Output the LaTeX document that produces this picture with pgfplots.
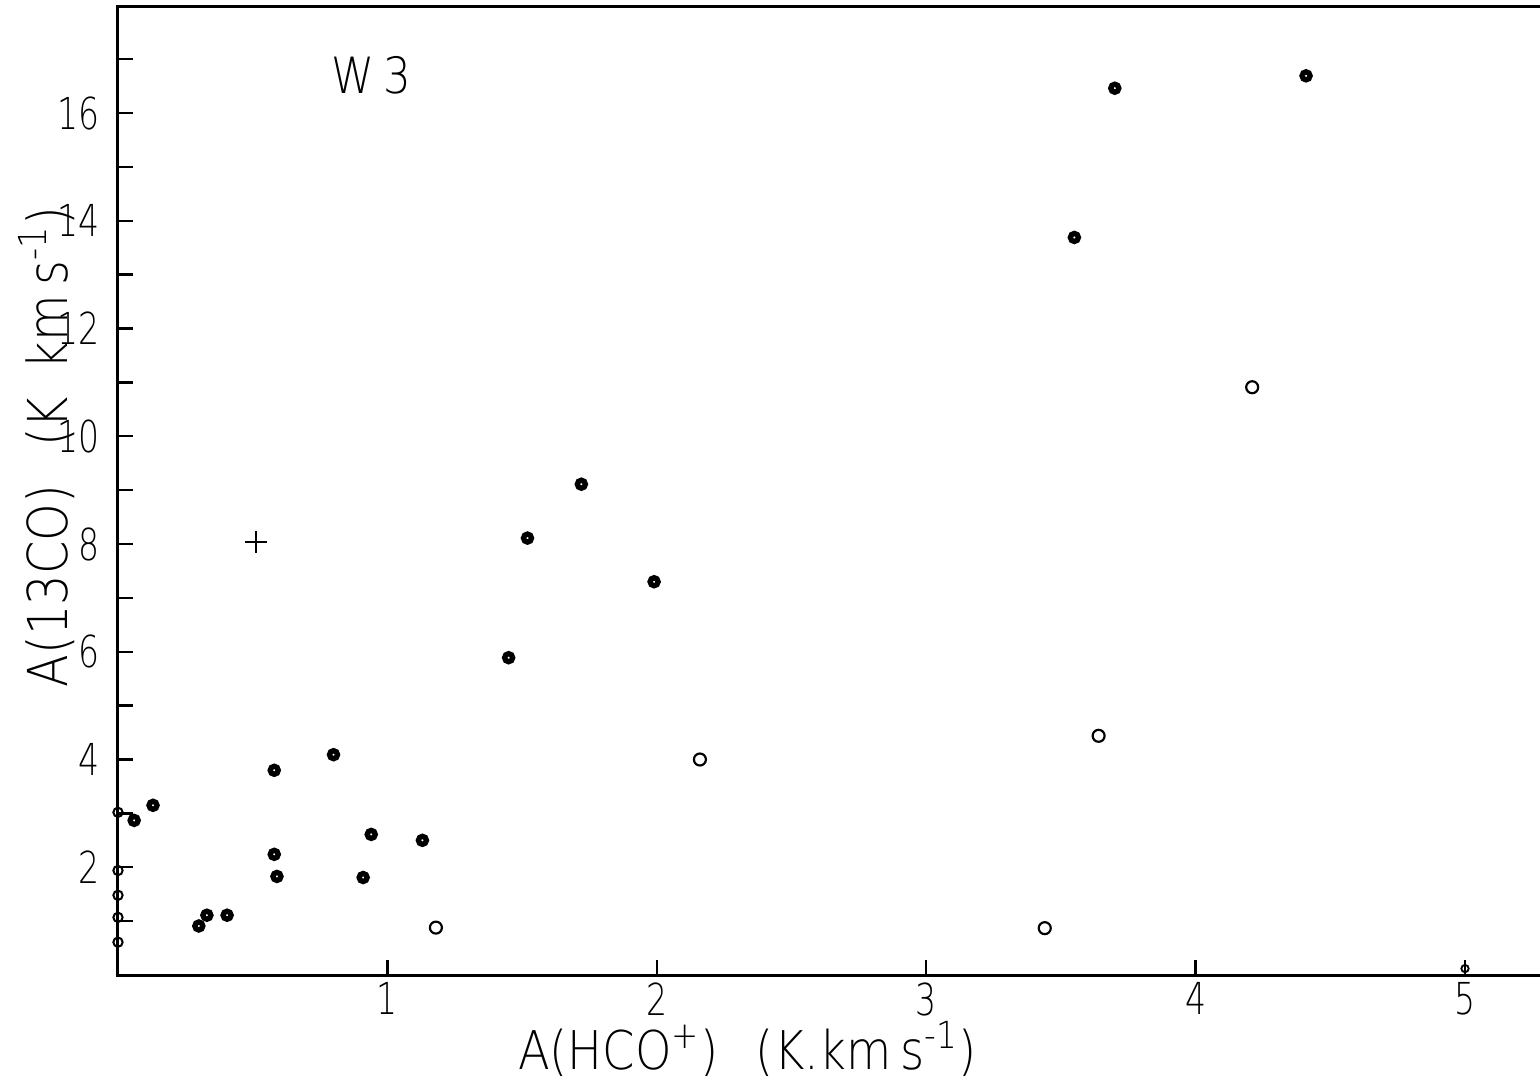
\documentclass[border=0pt]{standalone}
\usepackage{fontspec}
\setmainfont{DejaVu Sans ExtraLight}[FakeStretch=0.75]
\newfontfamily\labelfont{DejaVu Sans ExtraLight}[FakeStretch=0.87]
\usepackage{pgfplots}
\pgfplotsset{compat=1.18}
\begin{document}
\begin{tikzpicture}
\useasboundingbox (-35.4pt,-32.4pt) rectangle (426.6pt,292.5pt);
\begin{axis}[
  at={(0pt,0pt)}, anchor=south west,
  x=80.82pt, y=16.1625pt,
  xmin=0, xmax=5.5, ymin=0, ymax=17.97,
  axis line style={line width=0.9pt},
  xtick={1,2,3,4,5}, ytick={2,4,...,16}, minor ytick={1,3,...,17},
  tick pos=left, tick align=inside,
  major tick length=4.5pt, minor tick length=4.5pt,
  every tick/.style={black, line width=0.7pt},
  /pgf/number format/assume math mode=true,
  ticklabel style={font=\fontsize{13.2}{15}\selectfont},
  xticklabel style={yshift=-1pt, inner sep=1pt},
  yticklabel style={xshift=-2pt},
  clip=false,
]
% thick rings
\addplot[only marks, mark=o, mark options={line width=1.6pt}, mark size=1.2pt] coordinates {
(4.41,16.69) (3.70,16.46) (3.55,13.69) (1.72,9.11) (1.52,8.11) (1.99,7.30)
(1.45,5.89) (0.80,4.09) (0.58,3.80) (0.58,2.24) (0.59,1.83) (0.94,2.61)
(0.91,1.81) (1.13,2.50) (0.13,3.15) (0.06,2.87) (0.30,0.91) (0.33,1.11) (0.405,1.11)
};
% open circles
\addplot[only marks, mark=o, mark options={line width=0.65pt}, mark size=1.8pt] coordinates {
(4.21,10.91) (2.16,4.0) (3.64,4.44) (1.18,0.88) (3.44,0.87)
};
% points on the y axis
\addplot[only marks, mark=o, mark options={line width=0.6pt}, mark size=1.4pt] coordinates {
(0,3.02) (0,1.94) (0,1.48) (0,1.07) (0,0.61)
};
% point on the x axis
\addplot[only marks, mark=o, mark options={line width=0.55pt}, mark size=1.1pt] coordinates {
(5.0,0.12)
};
% plus
\addplot[only marks, mark=+, mark options={line width=0.7pt}, mark size=3.2pt] coordinates {
(0.512,8.04)
};
\node[font=\labelfont\fontsize{15}{17}\selectfont] at (axis cs:0.94,16.7) {W\,3};
\node[font=\labelfont\fontsize{16}{18}\selectfont, anchor=base, inner sep=0pt] at (axis cs:2.336,-1.76)
  {A(HCO\textsuperscript{+})\hspace{0.7em}(K.km\,s\textsuperscript{-1})};
\node[font=\labelfont\fontsize{16.5}{18}\selectfont, anchor=base, rotate=90, inner sep=0pt] at (axis cs:-0.186,9.8)
  {A(13CO)\hspace{0.7em}(K\hspace{0.5em}km\,s\textsuperscript{-1})};
\end{axis}
\end{tikzpicture}
\end{document}
